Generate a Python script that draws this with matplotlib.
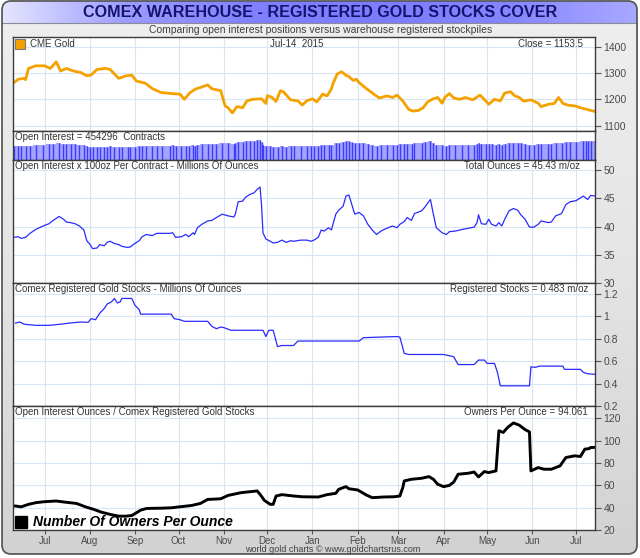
import datetime as dt
import numpy as np
import matplotlib
matplotlib.use('Agg')
import matplotlib.pyplot as plt
import matplotlib.dates as mdates
from matplotlib.patches import FancyBboxPatch
from matplotlib.colors import LinearSegmentedColormap

plt.rcParams['font.family'] = ['Liberation Sans', 'DejaVu Sans']

# series start date, all x values are day offsets from here
start = dt.date(2014, 6, 9)

# CME gold close
gold_day = [1, 4, 8, 9, 11, 16, 22, 26, 30, 33,
            37, 42, 47, 51, 54, 58, 64, 67, 73, 78,
            82, 85, 91, 96, 102, 109, 115, 118, 122, 126,
            130, 134, 137, 143, 146, 148, 151, 154, 158, 161,
            165, 171, 174, 175, 178, 181, 184, 186, 191, 196,
            199, 202, 206, 209, 213, 216, 219, 220, 223, 226,
            229, 231, 234, 236, 238, 243, 245, 248, 252, 257,
            261, 264, 268, 272, 275, 279, 282, 285, 289, 292,
            295, 297, 300, 303, 307, 311, 316, 318, 321, 324,
            327, 331, 335, 338, 342, 345, 348, 351, 356, 361,
            363, 368, 372, 375, 378, 382, 386, 390, 394, 400]
gold_px = [1264, 1277, 1280, 1275, 1318, 1328, 1328, 1318, 1343, 1308,
           1318, 1308, 1302, 1290, 1293, 1314, 1318, 1314, 1280, 1290,
           1292, 1270, 1262, 1241, 1226, 1222, 1220, 1200, 1226, 1240,
           1247, 1255, 1240, 1233, 1175, 1168, 1148, 1172, 1168, 1194,
           1200, 1202, 1184, 1214, 1208, 1192, 1233, 1229, 1198, 1194,
           1178, 1194, 1202, 1190, 1220, 1213, 1240, 1259, 1297, 1305,
           1292, 1287, 1272, 1277, 1264, 1241, 1233, 1220, 1205, 1213,
           1207, 1216, 1194, 1162, 1155, 1158, 1168, 1190, 1202, 1207,
           1185, 1208, 1222, 1205, 1200, 1207, 1198, 1205, 1216, 1200,
           1181, 1200, 1194, 1224, 1229, 1213, 1207, 1193, 1198, 1185,
           1172, 1181, 1184, 1207, 1184, 1177, 1175, 1168, 1162, 1153.5]

# open interest x 100oz, millions of ounces (also drawn as the OI bars)
oz_day = [1, 4, 6, 9, 12, 16, 21, 25, 28, 32,
          35, 37, 40, 43, 46, 49, 51, 53, 55, 58,
          60, 63, 65, 67, 70, 73, 75, 79, 81, 84,
          87, 89, 92, 96, 99, 103, 108, 110, 112, 116,
          119, 121, 124, 125, 127, 130, 134, 137, 140, 144,
          148, 152, 153, 155, 158, 160, 163, 166, 168, 170,
          171, 172, 174, 177, 179, 182, 185, 188, 191, 193,
          198, 202, 205, 207, 210, 212, 214, 217, 219, 222,
          224, 227, 229, 231, 233, 235, 238, 241, 244, 247,
          250, 253, 257, 261, 264, 266, 269, 271, 274, 276,
          281, 283, 287, 289, 291, 295, 298, 300, 304, 309,
          313, 317, 319, 320, 322, 325, 327, 329, 332, 334,
          336, 338, 341, 344, 347, 349, 352, 355, 358, 361,
          363, 368, 370, 373, 377, 380, 383, 387, 392, 394,
          395, 397, 400]
total_oz = [38.1, 38.2, 37.9, 38.1, 38.8, 39.5, 40.1, 40.5, 41.1, 41.8,
            41.3, 40.8, 40.7, 40.5, 40.1, 39.4, 37.5, 36.9, 36.1, 36.2,
            36.8, 36.6, 37.2, 37.4, 37.0, 36.8, 36.5, 36.3, 36.4, 37.0,
            37.5, 38.2, 38.6, 38.4, 38.8, 38.8, 38.8, 38.9, 38.1, 38.2,
            38.6, 38.2, 38.9, 38.6, 39.8, 40.4, 41.0, 41.1, 41.6, 42.2,
            41.9, 41.7, 42.2, 44.4, 44.5, 45.2, 45.7, 46.0, 46.6, 47.0,
            43.9, 38.9, 37.8, 37.4, 37.1, 37.2, 37.6, 37.2, 37.5, 37.4,
            37.6, 37.6, 37.4, 37.6, 38.1, 39.4, 39.2, 39.8, 39.4, 42.2,
            42.9, 43.6, 45.4, 45.6, 43.9, 42.2, 42.5, 41.9, 40.4, 39.4,
            38.6, 39.2, 39.7, 40.1, 39.8, 40.4, 40.9, 41.6, 41.1, 42.3,
            42.8, 43.4, 44.8, 42.2, 39.8, 38.9, 38.6, 39.1, 39.2, 39.5,
            39.7, 39.9, 40.7, 42.1, 40.5, 40.4, 41.3, 40.4, 40.1, 40.7,
            40.1, 41.3, 42.8, 43.2, 42.9, 42.1, 41.3, 39.9, 39.9, 40.4,
            41.0, 40.7, 40.8, 41.9, 42.3, 43.9, 44.4, 44.6, 45.4, 45.0,
            44.8, 45.5, 45.43]

# comex registered gold, millions of ounces
reg_day = [2, 5, 8, 16, 25, 33, 39, 47, 52, 54,
           57, 60, 63, 65, 68, 70, 72, 74, 75, 82,
           84, 87, 88, 98, 109, 111, 115, 118, 134, 137,
           140, 143, 145, 150, 172, 174, 176, 179, 182, 185,
           193, 196, 238, 241, 264, 266, 269, 272, 296, 303,
           306, 317, 320, 324, 326, 331, 333, 335, 355, 356,
           359, 362, 378, 379, 390, 392, 395, 400]
reg_oz = [0.94, 0.95, 0.93, 0.92, 0.92, 0.93, 0.94, 0.95, 0.947, 0.98,
          0.97, 1.03, 1.07, 1.11, 1.13, 1.16, 1.12, 1.13, 1.16, 1.16,
          1.10, 1.06, 1.02, 1.02, 1.02, 0.98, 0.97, 0.956, 0.956, 0.91,
          0.89, 0.905, 0.90, 0.876, 0.876, 0.82, 0.876, 0.876, 0.73, 0.74,
          0.74, 0.78, 0.78, 0.81, 0.82, 0.815, 0.67, 0.66, 0.66, 0.64,
          0.57, 0.57, 0.61, 0.61, 0.58, 0.58, 0.50, 0.38, 0.38, 0.55,
          0.545, 0.556, 0.556, 0.527, 0.527, 0.50, 0.488, 0.483]

# owners per ounce
own_day = [2, 6, 11, 16, 22, 30, 36, 44, 50, 56,
           61, 67, 73, 78, 82, 88, 92, 103, 109, 115,
           123, 129, 134, 143, 148, 157, 168, 170, 173, 177,
           179, 181, 185, 193, 199, 210, 216, 222, 224, 229,
           231, 237, 243, 247, 255, 262, 266, 268, 269, 274,
           281, 286, 289, 292, 296, 300, 303, 306, 313, 317,
           320, 324, 327, 332, 334, 337, 340, 344, 348, 352,
           355, 356, 361, 365, 370, 376, 380, 386, 390, 393,
           396, 397, 400]
owners = [41.5, 40.8, 43.0, 44.5, 45.4, 46, 45, 43.8, 40.8, 38.4,
          36, 34, 32.4, 32.4, 33, 37.8, 39.3, 39.6, 39.9, 40.8,
          42, 43.8, 47.4, 48, 51, 53.5, 55, 52, 46.5, 43,
          43, 50.5, 51.7, 50.5, 49.8, 49.6, 51.7, 52.9, 56.5, 58.9,
          57, 55.9, 51.4, 49, 49.6, 49.8, 50.5, 58, 64, 65.5,
          66.4, 67.9, 65.5, 61, 58.9, 60, 63, 70, 70.9, 72,
          67.6, 72.4, 71.5, 73, 109, 107.5, 112, 116, 114, 110,
          108, 73, 76, 74.5, 74.5, 77.5, 85, 86.5, 85.9, 92.5,
          93, 94, 94.061]


def to_dates(days):
    return [start + dt.timedelta(days=d) for d in days]


W, H = 640, 558
fig = plt.figure(figsize=(W / 100, H / 100), dpi=100)
fig.patch.set_facecolor('white')

# background frame, title bar
bg = fig.add_axes([0, 0, 1, 1], zorder=0)
bg.set_axis_off()
bg.set_xlim(0, W)
bg.set_ylim(H, 0)
frame = FancyBboxPatch((2, 1), W - 5, H - 5, boxstyle='round,pad=0,rounding_size=9',
                       fc='none', ec='#5a5a5a', lw=1.3, zorder=5)
bg.add_patch(frame)
body_cmap = LinearSegmentedColormap.from_list('body', ['#efefef', '#e4e4e4', '#d2d2d2'])
im = bg.imshow(np.linspace(0, 1, 200).reshape(-1, 1), cmap=body_cmap, aspect='auto',
               extent=[2, W - 3, H - 4, 1], zorder=1)
im.set_clip_path(frame)
bar_cmap = LinearSegmentedColormap.from_list('bar', ['#e4e4ff', '#9a9aff', '#8080ff',
                                                     '#7c7cff', '#8585ff', '#a8a8ff'])
tb = bg.imshow(np.linspace(0, 1, 300).reshape(1, -1), cmap=bar_cmap, aspect='auto',
               extent=[2, W - 3, 23, 1], zorder=2)
tb.set_clip_path(frame)
bg.plot([2, W - 3], [23, 23], color='#8a8a9a', lw=0.8, zorder=3)

# panel edges in pixels: top, bottom
x0, x1 = 12.5, 595
edges = [(37, 131), (131, 160), (160, 283), (283, 406), (406, 530)]
axes = []
for i, (t, b) in enumerate(edges):
    ax = fig.add_axes([x0 / W, 1 - b / H, (x1 - x0) / W, (b - t) / H],
                      sharex=axes[0] if axes else None, zorder=4)
    ax.set_facecolor('white')
    for s in ax.spines.values():
        s.set_color('#3c3c3c')
        s.set_linewidth(1.0)
    ax.yaxis.tick_right()
    ax.tick_params(axis='y', direction='out', length=4, width=0.8, color='#555555',
                   labelsize=7.5, labelcolor='#4a4a4a', pad=2)
    ax.tick_params(axis='x', direction='out', length=3, width=0.8, color='#555555',
                   labelsize=7, labelcolor='#4a4a4a', pad=1.5)
    ax.grid(True, color='#d8e6f4', lw=0.8)
    ax.set_axisbelow(True)
    axes.append(ax)

ax1, ax2, ax3, ax4, ax5 = axes

ax1.plot(to_dates(gold_day), gold_px, color='#f5a100', lw=2.0, solid_joinstyle='round')
ax1.set_ylim(1079, 1438)
ax1.set_yticks([1100, 1200, 1300, 1400])

oz_dates = to_dates(oz_day)
ax2.fill_between(oz_dates, 0, total_oz, step='mid', color='#a4a4ff', lw=0)
ax2.vlines(oz_dates, 0, total_oz, color='#3c3cff', lw=1.0)
ax2.set_ylim(17.2, 60.4)
ax2.set_yticks([])
ax2.grid(False, axis='y')

ax3.plot(oz_dates, total_oz, color='#2a2aff', lw=0.9)
ax3.set_ylim(30, 51.8)
ax3.set_yticks([30, 35, 40, 45, 50])

ax4.plot(to_dates(reg_day), reg_oz, color='#2a2aff', lw=0.9)
ax4.set_ylim(0.2, 1.298)
ax4.set_yticks([0.2, 0.4, 0.6, 0.8, 1.0, 1.2])
ax4.set_yticklabels(['0.2', '0.4', '0.6', '0.8', '1', '1.2'])

ax5.plot(to_dates(own_day), owners, color='black', lw=2.1)
ax5.set_ylim(20, 131.2)
ax5.set_yticks([20, 40, 60, 80, 100, 120])

ax5.set_xlim(start - dt.timedelta(days=0.5), start + dt.timedelta(days=400.5))
ax5.xaxis.set_major_locator(mdates.MonthLocator())
ax5.xaxis.set_major_formatter(mdates.DateFormatter('%b'))
for ax in axes[:-1]:
    ax.tick_params(axis='x', length=0, labelbottom=False)

# overlay for all the texts
top = fig.add_axes([0, 0, 1, 1], zorder=10)
top.set_axis_off()
top.patch.set_alpha(0)
top.set_xlim(0, W)
top.set_ylim(H, 0)

top.text(320, 12.5, 'COMEX WAREHOUSE - REGISTERED GOLD STOCKS COVER', ha='center', va='center',
         fontsize=11.6, fontweight='bold', color='#14146e')
top.text(321, 30, 'Comparing open interest positions versus warehouse registered stockpiles',
         ha='center', va='center', fontsize=7.5, color='#404040')
top.text(333, 550, 'world gold charts \u00a9 www.goldchartsrus.com', ha='center', va='center',
         fontsize=6.5, color='#404040')

lab = dict(fontsize=7, color='#333333', va='center')
top.plot([20], [44], marker='s', ms=6.5, mfc='#f5a100', mec='#7a7a7a', mew=0.8)
top.text(30, 44, 'CME Gold', ha='left', **lab)
top.text(297, 44, 'Jul-14  2015', ha='center', **lab)
top.text(583, 44, 'Close = 1153.5', ha='right', **lab)
top.text(15, 137, 'Open Interest = 454296  Contracts', ha='left', **lab)
top.text(15, 166, 'Open Interest x 100oz Per Contract - Millions Of Ounces', ha='left', **lab)
top.text(580, 166, 'Total Ounces = 45.43 m/oz', ha='right', **lab)
top.text(15, 289, 'Comex Registered Gold Stocks - Millions Of Ounces', ha='left', **lab)
top.text(588, 289, 'Registered Stocks = 0.483 m/oz', ha='right', **lab)
top.text(15, 412, 'Open Interest Ounces / Comex Registered Gold Stocks', ha='left', **lab)
top.text(588, 412, 'Owners Per Ounce = 94.061', ha='right', **lab)
top.plot([21], [522], marker='s', ms=8, mfc='black', mec='black')
top.text(33, 522, 'Number Of Owners Per Ounce', ha='left', va='center', fontsize=10,
         fontweight='bold', fontstyle='italic', color='black')

fig.savefig('out.png', dpi=100, facecolor=fig.get_facecolor())
